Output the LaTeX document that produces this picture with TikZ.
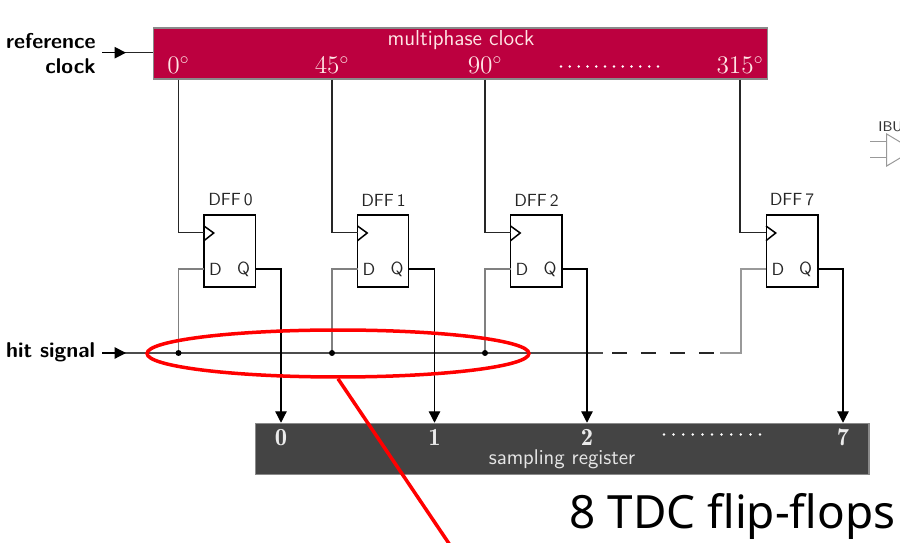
\documentclass[tikz,border=0pt]{standalone}
\usepackage{fontspec}
\newfontfamily\bigfont{Noto Sans}
\usetikzlibrary{arrows.meta,shapes.geometric}
\definecolor{clkred}{HTML}{BC003F}
\definecolor{regdark}{HTML}{444444}
\definecolor{boxedge}{HTML}{8A8A8A}
\tikzset{
    dffbox/.style={draw, line width=0.3mm, fill=white, minimum width=1.03cm, minimum height=1.44cm, inner sep=0pt},
    dfflabel/.style={font=\sffamily\fontsize{10}{11}\selectfont, text=black!85, inner sep=0pt},
    sigline/.style={line width=0.26mm, black!85},
    dataline/.style={line width=0.24mm, black!50},
    arrowline/.style={line width=0.25mm, -{Triangle[length=2.3mm, width=2.3mm]}},
    sidelabel/.style={font=\sffamily\bfseries\fontsize{12.2}{14.2}\selectfont, inner sep=0pt},
    phaselabel/.style={font=\fontsize{14}{16}\selectfont, text=white!90!red, inner sep=0pt},
    regdigit/.style={font=\fontsize{14}{16}\selectfont, text=white!92!black, inner sep=0pt},
    dotrow/.style={white, line width=0.55mm, line cap=round, dash pattern=on 0pt off 8.82*0.2mm},
    redring/.style={draw=red, line width=0.7mm, shape=ellipse, minimum width=7.64cm, minimum height=0.94cm, inner sep=0pt}
}
\begin{document}
\begin{tikzpicture}[x=0.02cm, y=-0.02cm]
    \useasboundingbox (0,0) rectangle (900,543);
    \clip (0,0) rectangle (900,543);

    % clock generator
    \node[draw=boxedge, line width=0.3mm, fill=clkred, minimum width=12.28cm, minimum height=1.02cm, inner sep=0pt] (mpclk) at (460.5,53.5) {};
    \node[font=\sffamily\fontsize{12.3}{13}\selectfont, text=white!90!red, inner sep=0pt] (mpname) at (461,40.5) {multiphase clock};
    \node[phaselabel] (ph0) at (178.5,65.5) {$0^\circ$};
    \node[phaselabel] (ph1) at (332,65.5) {$45^\circ$};
    \node[phaselabel] (ph2) at (485,65.5) {$90^\circ$};
    \node[phaselabel] (ph7) at (740,65.5) {$315^\circ$};
    \coordinate (mpdotsl) at (561,66.5);
    \coordinate (mpdotsr) at (658,66.5);
    \draw[dotrow] (mpdotsl)--(mpdotsr);

    % inputs
    \node[sidelabel, align=right, anchor=east] (refclk) at (96,53.5) {reference\\clock};
    \node[sidelabel, anchor=east] (hit) at (95.5,352.5) {hit signal};
    \coordinate (refstart) at (102,52.7);
    \coordinate (refhead) at (126,52.7);
    \coordinate (hitstart) at (102,353);
    \coordinate (hithead) at (126,353);
    \coordinate (hitend) at (603,353);
    \coordinate (hitcorner) at (741,353);
    \coordinate (gapl) at (612,353);
    \coordinate (gapr) at (714,353);
    \coordinate (gapb) at (720,353);
    \draw[sigline] (refstart)--(mpclk.west |- refstart);
    \draw[arrowline] (refstart)--(refhead);
    \draw[dataline, black!70] (hitstart)--(hitend);
    \draw[arrowline] (hitstart)--(hithead);
    \draw[sigline, dash pattern=on 3mm off 2.8mm] (gapl)--(gapr);

    % flip-flops
    \node[dffbox] (dff0) at (229.8,251) {};
    \node[dffbox] (dff1) at (383,251) {};
    \node[dffbox] (dff2) at (536.3,251) {};
    \node[dffbox] (dff7) at (792,251) {};
    \node[dfflabel] (name0) at (230.5,200) {DFF\,0};
    \node[dfflabel] (name1) at (383.5,200) {DFF\,1};
    \node[dfflabel] (name2) at (536.5,200) {DFF\,2};
    \node[dfflabel] (name7) at (792,200) {DFF\,7};

    \node[dfflabel] (d0) at (215.5,269) {D};
    \node[dfflabel] (q0) at (243.5,269) {Q};
    \node[dfflabel] (d1) at (369,269) {D};
    \node[dfflabel] (q1) at (397,269) {Q};
    \node[dfflabel] (d2) at (522,269) {D};
    \node[dfflabel] (q2) at (550,269) {Q};
    \node[dfflabel] (d7) at (778,269) {D};
    \node[dfflabel] (q7) at (805.5,269) {Q};

    % clock pins
    \coordinate (ck0) at (204,232.5);
    \coordinate (ck1) at (357.5,232.5);
    \coordinate (ck2) at (510.5,232.5);
    \coordinate (ck7) at (766,232.5);
    \draw[sigline] (ph0 |- mpclk.south)--(ph0 |- ck0)--(ck0);
    \draw[sigline] (ph1 |- mpclk.south)--(ph1 |- ck1)--(ck1);
    \draw[sigline] (ph2 |- mpclk.south)--(ph2 |- ck2)--(ck2);
    \draw[sigline] (ph7 |- mpclk.south)--(ph7 |- ck7)--(ck7);
    \draw[line width=0.3mm] (204,226)--(213.7,233)--(204,240.7);
    \draw[line width=0.3mm] (357.5,226)--(367.2,233)--(357.5,240.7);
    \draw[line width=0.3mm] (510.5,226)--(520.2,233)--(510.5,240.7);
    \draw[line width=0.3mm] (766,226)--(775.7,233)--(766,240.7);

    % data pins
    \coordinate (din0) at (204,269);
    \coordinate (din1) at (357.5,269);
    \coordinate (din2) at (510.5,269);
    \coordinate (din7) at (766,269);
    \coordinate (tap0) at (178.5,353);
    \coordinate (tap1) at (332,353);
    \coordinate (tap2) at (485,353);
    \draw[dataline] (tap0)--(tap0 |- din0)--(din0);
    \draw[dataline] (tap1)--(tap1 |- din1)--(din1);
    \draw[dataline] (tap2)--(tap2 |- din2)--(din2);
    \draw[dataline, black!40] (gapb)--(hitcorner)--(hitcorner |- din7)--(din7);
    \fill (tap0) circle (0.6mm);
    \fill (tap1) circle (0.6mm);
    \fill (tap2) circle (0.6mm);

    % sampling register
    \node[draw=boxedge, line width=0.3mm, fill=regdark, minimum width=12.27cm, minimum height=1.02cm, inner sep=0pt] (sreg) at (562.3,449) {};
    \node[regdigit] (bit0) at (281,437.5) {$\mathbf{0}$};
    \node[regdigit] (bit1) at (434.5,437.5) {$\mathbf{1}$};
    \node[regdigit] (bit2) at (587,437.5) {$\mathbf{2}$};
    \node[regdigit] (bit7) at (843,437.5) {$\mathbf{7}$};
    \node[font=\sffamily\fontsize{12.1}{13}\selectfont, text=white!90!black, inner sep=0pt] (regname) at (562,459) {sampling register};
    \coordinate (regdotsl) at (664,434.5);
    \coordinate (regdotsr) at (760,434.5);
    \draw[dotrow, dash pattern=on 0pt off 9.6*0.2mm] (regdotsl)--(regdotsr);

    \draw[arrowline] (dff0.east |- q0)-|(bit0 |- sreg.north);
    \draw[arrowline] (dff1.east |- q1)-|(bit1 |- sreg.north);
    \draw[arrowline] (dff2.east |- q2)-|(bit2 |- sreg.north);
    \draw[arrowline] (dff7.east |- q7)-|(bit7 |- sreg.north);

    % callout
    \node[redring] (ring) at (338,353.5) {};
    \coordinate (ringtail) at (452,548);
    \draw[red, line width=0.7mm] (ring.south)--(ringtail);
    \node[font=\bigfont\fontsize{26.1}{30}\selectfont, inner sep=0pt] (flipflops) at (732.5,516) {8 TDC flip-flops};

    % cut-off part at the page edge
    \node[font=\sffamily\fontsize{8}{9}\selectfont, text=black!80, anchor=west, inner sep=0pt] (ibuf) at (878,127) {IBUF};
    \coordinate (ibufa) at (870,142);
    \coordinate (ibufb) at (870,158);
    \draw[black!40, line width=0.2mm] (886.7,134)--(886.7,166)--(913.5,150)--cycle;
    \draw[black!40, line width=0.2mm] (ibufa)--(ibufa -| 886.7,0);
    \draw[black!40, line width=0.2mm] (ibufb)--(ibufb -| 886.7,0);
\end{tikzpicture}
\end{document}
